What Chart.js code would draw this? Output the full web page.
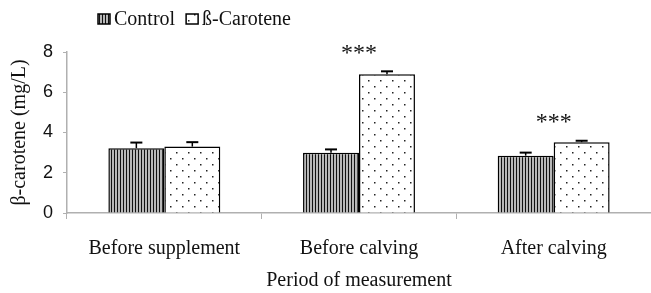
<!DOCTYPE html>
<html>
<head>
<meta charset="utf-8">
<script src="https://cdn.jsdelivr.net/npm/chart.js@4.4.0/dist/chart.umd.min.js"></script>
<style>
  html, body { margin:0; padding:0; background:#fff; }
  #wrap { width:651px; height:293px; position:relative; }
</style>
</head>
<body>
<div id="wrap"><canvas id="c"></canvas></div>
<script>
// data
const periods = ["Before supplement", "Before calving", "After calving"];
const controlMean = [3.22, 3.0, 2.85];
const controlErr  = [0.28, 0.16, 0.15];
const caroteneMean = [3.3, 6.9, 3.52];
const caroteneErr  = [0.22, 0.14, 0.07];
const signif = ["", "***", "***"];
const yTicks = [0, 2, 4, 6, 8];

const SERIF = "'Liberation Serif', 'DejaVu Serif', serif";
const SANS = "'Liberation Sans', Arial, sans-serif";

// fill patterns
function stripePattern() {
  const cv = document.createElement("canvas");
  cv.width = 3; cv.height = 3;
  const g = cv.getContext("2d");
  g.fillStyle = "#b8b8b8"; g.fillRect(0,0,3,3);
  g.fillStyle = "#111"; g.fillRect(0,0,1,3);
  return g.createPattern(cv, "repeat");
}
function dotPattern() {
  const cv = document.createElement("canvas");
  cv.width = 12; cv.height = 12;
  const g = cv.getContext("2d");
  g.fillStyle = "#fff"; g.fillRect(0,0,12,12);
  g.fillStyle = "#222";
  g.fillRect(2,2,1.5,1.5);
  g.fillRect(8,8,1.5,1.5);
  return g.createPattern(cv, "repeat");
}
const ctx0 = document.getElementById("c").getContext("2d");
const stripes = stripePattern();
const dots = dotPattern();

// error bars (upward only) + significance stars
const errorPlugin = {
  id: "errs",
  afterDatasetsDraw(chart) {
    const ctx = chart.ctx, y = chart.scales.y;
    const errs = [controlErr, caroteneErr];
    const tops = periods.map(() => Infinity);
    chart.data.datasets.forEach((ds, di) => {
      chart.getDatasetMeta(di).data.forEach((bar, i) => {
        const top = y.getPixelForValue(ds.data[i] + errs[di][i]);
        ctx.save();
        ctx.strokeStyle = "#000"; ctx.lineWidth = 1.5;
        ctx.beginPath();
        ctx.moveTo(bar.x, bar.y); ctx.lineTo(bar.x, top);
        ctx.stroke();
        ctx.lineWidth = 2;
        ctx.beginPath();
        ctx.moveTo(bar.x - 6, top); ctx.lineTo(bar.x + 6, top);
        ctx.stroke();
        ctx.restore();
        tops[i] = Math.min(tops[i], top);
      });
    });
    const x = chart.scales.x;
    ctx.save();
    ctx.fillStyle = "#111";
    ctx.font = "24px " + SERIF;
    ctx.textAlign = "center"; ctx.textBaseline = "middle";
    signif.forEach((s, i) => {
      if (!s) return;
      ctx.fillText(s, x.getPixelForValue(i), tops[i] - 18);
    });
    ctx.restore();
  }
};

// legend at top-left
const legendPlugin = {
  id: "leg",
  afterDraw(chart) {
    const ctx = chart.ctx;
    ctx.save();
    ctx.font = "20px " + SERIF;
    ctx.textBaseline = "middle";
    let x = 98; const yy = 19;
    chart.data.datasets.forEach(ds => {
      ctx.fillStyle = ds.backgroundColor;
      ctx.fillRect(x, yy - 5, 12, 10);
      ctx.strokeStyle = "#000"; ctx.lineWidth = 1.5;
      ctx.strokeRect(x, yy - 5, 12, 10);
      ctx.fillStyle = "#111";
      ctx.fillText(ds.label, x + 16, yy + 1);
      x += 16 + ctx.measureText(ds.label).width + 11;
    });
    ctx.restore();
  }
};

new Chart(ctx0, {
  type: "bar",
  data: {
    labels: periods,
    datasets: [
      { label: "Control", data: controlMean, backgroundColor: stripes,
        borderColor: "#000", borderWidth: 1.5 },
      { label: "ß-Carotene", data: caroteneMean, backgroundColor: dots,
        borderColor: "#000", borderWidth: 1.5 }
    ]
  },
  options: {
    responsive: true, maintainAspectRatio: false, animation: false,
    categoryPercentage: 0.575, barPercentage: 1.0,
    layout: { padding: { top: 52, right: 0, left: 0, bottom: 0 } },
    plugins: { legend: { display: false }, tooltip: { enabled: false } },
    scales: {
      x: {
        afterFit(s) { s.height = 80; },
        grid: { drawOnChartArea: false, drawTicks: true, tickLength: 6, color: "#b0b0b0", offset: true },
        border: { color: "#b0b0b0", width: 1.5 },
        ticks: { color: "#111", font: { family: SERIF, size: 20 }, padding: 18 },
        title: { display: true, text: "Period of measurement", color: "#111",
                 font: { family: SERIF, size: 20 }, padding: { top: 0, bottom: 0 } }
      },
      y: {
        min: 0, max: 8,
        afterFit(s) { s.width = 67; },
        afterBuildTicks(s) { s.ticks = yTicks.map(v => ({ value: v })); },
        grid: { drawOnChartArea: false, drawTicks: true, tickLength: 4, color: "#b0b0b0" },
        border: { color: "#b0b0b0", width: 1.5 },
        ticks: { color: "#111", font: { family: SANS, size: 18 }, padding: 10 },
        title: { display: true, text: "β-carotene (mg/L)", color: "#111",
                 font: { family: SERIF, size: 20 }, padding: { top: 8, bottom: 0 } }
      }
    }
  },
  plugins: [errorPlugin, legendPlugin]
});
</script>
</body>
</html>
